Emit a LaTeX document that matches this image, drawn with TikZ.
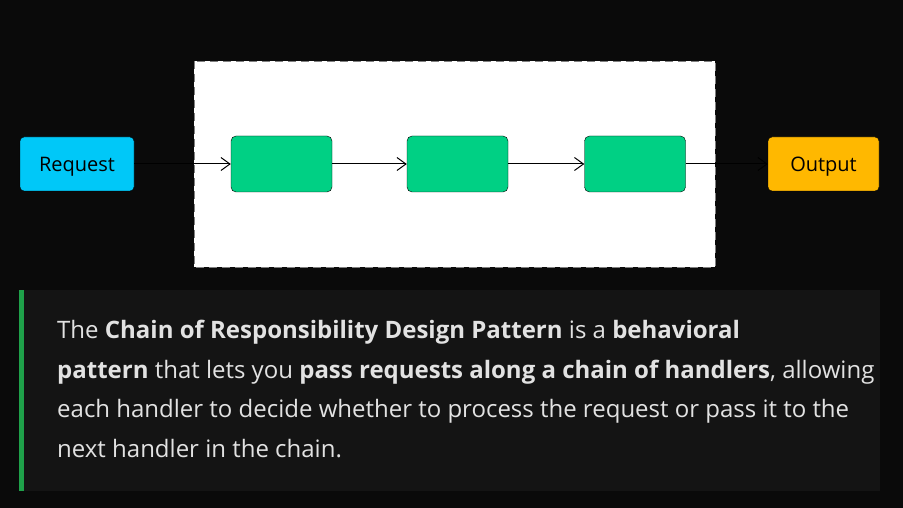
\documentclass[tikz,border=0pt]{standalone}
\usepackage{fontspec}
\setmainfont{Open Sans}
\newfontfamily\boxfont{Open Sans}
\usetikzlibrary{arrows.meta}
\definecolor{bgdark}{HTML}{0A0A0A}
\definecolor{quotebg}{HTML}{141414}
\definecolor{quotebar}{HTML}{1FA14A}
\definecolor{reqblue}{HTML}{00C8F8}
\definecolor{handgreen}{HTML}{00D084}
\definecolor{outamber}{HTML}{FFB800}
\definecolor{bodytext}{HTML}{E2E2E2}
\tikzset{
  io/.style={draw=black,rounded corners=4pt,minimum width=114pt,minimum height=54pt,
    text height=20pt,text depth=4pt,font=\boxfont\fontsize{20}{20}\selectfont,text=black},
  handler/.style={draw=black,rounded corners=5pt,fill=handgreen,minimum width=101pt,minimum height=56pt},
  link/.style={-{Straight Barb[length=9pt,width=13pt]},draw=black,line width=1pt},
  body/.style={anchor=base west,text=bodytext,font=\fontsize{24}{24}\selectfont,inner sep=0pt}
}
\begin{document}
\begin{tikzpicture}[x=1pt,y=-1pt]
\fill[bgdark] (0,0) rectangle (903,508);
\useasboundingbox (0,0) rectangle (903,508);
% the chain
\draw[fill=white,draw=gray,dash pattern=on 8pt off 5pt] (194,61) rectangle (715,267);
\node[io,fill=reqblue] (req) at (77,164) {Request};
\node[io,fill=outamber,minimum width=111pt] (out) at (823.5,164) {Output};
\foreach \n/\x in {hA/281.5,hB/457.5,hC/635}{ % handlers
\node[handler] (\n) at (\x,164) {};}
\draw[link] (req) -- (hA);
\draw[link] (hA) -- (hB);
\draw[link] (hB) -- (hC);
\draw[link] (hC) -- (out);
% the quote
\fill[quotebg] (19,290) rectangle (880,491);
\fill[quotebar] (19,290) rectangle (24,491);
\node[body] (lineA) at (57,338) {The \textbf{Chain of Responsibility Design Pattern} is a \textbf{behavioral}};
\node[body] (lineB) at (57,378) {\textbf{pattern} that lets you \textbf{pass requests along a chain of handlers}, allowing};
\node[body] (lineC) at (57,417) {each handler to decide whether to process the request or pass it to the};
\node[body] (lineD) at (57,457) {next handler in the chain.};
\end{tikzpicture}
\end{document}
